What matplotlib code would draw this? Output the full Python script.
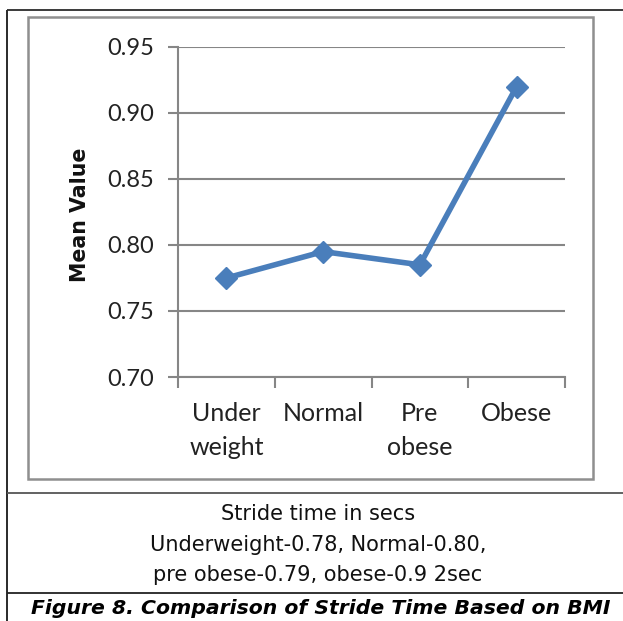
import matplotlib
matplotlib.use("Agg")
import matplotlib.pyplot as plt
from matplotlib.lines import Line2D
from matplotlib.patches import Rectangle

# BMI groups and mean stride time (s)
categories = ["Under\nweight", "Normal", "Pre\nobese", "Obese"]
mean_stride = [0.775, 0.795, 0.785, 0.92]
y_ticks = [0.70, 0.75, 0.80, 0.85, 0.90, 0.95]

W, H = 623, 621
fig = plt.figure(figsize=(W / 100, H / 100), dpi=100)
fig.patch.set_facecolor("white")


def fx(px):
    return px / W


def fy(py):
    return 1 - py / H


def hline(y, x0, x1, color, lw):
    fig.add_artist(Line2D([fx(x0), fx(x1)], [fy(y), fy(y)], transform=fig.transFigure,
                          color=color, lw=lw, solid_capstyle="butt"))


def vline(x, y0, y1, color, lw):
    fig.add_artist(Line2D([fx(x), fx(x)], [fy(y0), fy(y1)], transform=fig.transFigure,
                          color=color, lw=lw, solid_capstyle="butt"))


# table frame around the chart and caption
hline(10, 7, 623, "#3a3a3a", 1.4)
vline(7, 10, 621, "#2a2a2a", 1.4)
hline(493, 7, 623, "#555555", 1.3)
hline(593, 7, 623, "#222222", 1.3)

# chart area border
fig.add_artist(Rectangle((fx(28), fy(479)), fx(593) - fx(28), fy(17) - fy(479),
                         transform=fig.transFigure, fill=False,
                         edgecolor="#8f8f8f", lw=1.8))

left, right, top, bottom = 178, 565, 47, 377
ax = fig.add_axes([fx(left), fy(bottom), fx(right) - fx(left), fy(top) - fy(bottom)])

x = list(range(len(categories)))
ax.plot(x, mean_stride, color="#4a7ebb", lw=4.0, marker="D", markersize=11,
        markerfacecolor="#4a7ebb", markeredgecolor="#4a7ebb", zorder=3,
        solid_joinstyle="round")

ax.set_xlim(-0.5, len(categories) - 0.5)
ax.set_ylim(y_ticks[0], y_ticks[-1])
ax.set_yticks(y_ticks)
ax.set_yticklabels([f"{t:.2f}" for t in y_ticks])
ax.grid(axis="y", color="#868686", lw=1.5)
ax.set_axisbelow(True)

for s in ["top", "right"]:
    ax.spines[s].set_visible(False)
for s in ["left", "bottom"]:
    ax.spines[s].set_color("#868686")
    ax.spines[s].set_linewidth(1.5)

label_font = "Lato"
ax.tick_params(axis="y", length=7, width=1.5, color="#868686", pad=10,
               labelsize=17, labelcolor="#222222")
for lab in ax.get_yticklabels():
    lab.set_family(label_font)

# category boundary ticks below the axis, labels centred in each slot
ax.set_xticks([i - 0.5 for i in range(len(categories) + 1)])
ax.set_xticklabels([])
ax.tick_params(axis="x", length=8, width=1.5, color="#868686")
for i, c in enumerate(categories):
    ax.text(i, -0.077, c, transform=ax.get_xaxis_transform(), ha="center", va="top",
            fontsize=18, family=label_font, color="#222222", linespacing=1.55)

fig.text(fx(80), fy(215), "Mean Value", rotation=90, ha="center", va="center",
         fontsize=14.8, fontweight="bold", family="DejaVu Sans", color="#111111")

# caption below the chart
caption = [
    "Stride time in secs",
    f"Underweight-{mean_stride[0]:.2f}, Normal-{mean_stride[1]:.2f},",
    f"pre obese-{mean_stride[2]:.2f}, obese-0.9 2sec",
]
for yy, line in zip([514, 545, 575], caption):
    fig.text(fx(318), fy(yy), line, ha="center", va="center", fontsize=15,
             family="DejaVu Sans", color="#111111")

fig.text(fx(321), fy(608), "Figure 8. Comparison of Stride Time Based on BMI",
         ha="center", va="center", fontsize=14.7, fontweight="bold", style="italic",
         family="DejaVu Sans", color="#000000")

fig.savefig("out.png", dpi=100, facecolor="white")
